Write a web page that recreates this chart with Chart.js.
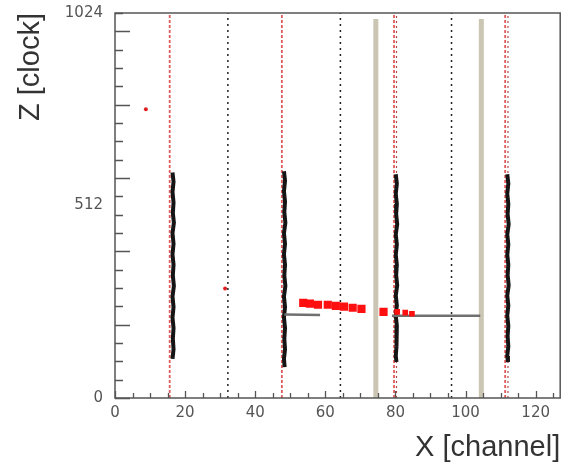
<!DOCTYPE html>
<html>
<head>
<meta charset="utf-8">
<script src="https://cdn.jsdelivr.net/npm/chart.js@4"></script>
<style>
  html, body { margin: 0; padding: 0; background: #fff; }
</style>
</head>
<body>
<canvas id="chart" width="566" height="465"></canvas>
<script>
// axes
const xRange = [0, 127];
const zRange = [0, 1024];
const xTickLabels = [0, 20, 40, 60, 80, 100, 120];
const zTickLabels = [0, 512, 1024];
const xMinorStep = 5;
const zMinorStep = 1024 / 21; // spacing of the small tick marks in the reference

// wire / boundary lines (x in channel)
const blackWires = [32.2, 64.3, 96];
const redWires = [15.6, 47.6, 79.6, 111.3];
const redWiresInner = [80.3, 112.1];
const grayBars = [74.4, 104.5];
const grayBarTop = 1008;

// hit strips [x, z]
const strip1 = [[16.4,600],[16.7,575],[16.4,548],[16.7,520],[16.5,492],[16.8,466],[16.4,438],[16.7,410],[16.4,382],[16.7,355],[16.5,326],[16.8,298],[16.4,270],[16.7,242],[16.4,214],[16.7,186],[16.5,158],[16.7,130],[16.4,104]];
const strip2 = [[48.2,603],[48.5,578],[48.2,550],[48.5,522],[48.3,494],[48.6,466],[48.2,438],[48.5,410],[48.2,382],[48.5,354],[48.3,326],[48.6,298],[48.2,270],[48.5,242],[48.2,214],[48.5,186],[48.3,158],[48.5,130],[48.2,104],[48.4,82]];
const strip3 = [[80.1,595],[80.4,570],[80.1,543],[80.4,516],[80.2,489],[80.5,462],[80.1,435],[80.4,408],[80.1,381],[80.4,354],[80.2,327],[80.5,300],[80.1,273],[80.4,246],[80.1,219],[80.4,192],[80.2,165],[80.4,138],[80.1,112],[80.3,96]];
const strip4 = [[111.9,595],[112.2,570],[111.9,543],[112.2,516],[112.0,489],[112.3,462],[111.9,435],[112.2,408],[111.9,381],[112.2,354],[112.0,327],[112.3,300],[111.9,273],[112.2,246],[111.9,219],[112.2,192],[112.0,165],[112.2,138],[111.9,112],[112.1,96]];

// reconstructed track
const trackBig = [[53.7,253],[55.6,251],[57.9,248],[60.7,248],[63.0,245],[65.3,243],[67.8,240],[70.3,237],[76.6,229]];
const trackSmall = [[80.5,229],[82.8,227],[84.7,224]];
const fitSeg1 = [[48.3,222],[58.5,221]];
const fitSeg2 = [[79.0,219],[104.2,219]];
const strayHits = [[8.8,768],[31.4,291]];

const pts = arr => arr.map(p => ({ x: p[0], y: p[1] }));

function vline(x, top, color, width, dash) {
  return {
    data: [{ x: x, y: zRange[0] }, { x: x, y: top }],
    showLine: true, pointRadius: 0,
    borderColor: color, borderWidth: width, borderDash: dash
  };
}

function polyline(arr, color, width) {
  return {
    data: pts(arr), showLine: true, pointRadius: 0,
    borderColor: color, borderWidth: width
  };
}

// first dataset is drawn on top
const datasets = [
  { data: pts(trackBig), pointStyle: 'rect', pointRadius: 5.8, backgroundColor: '#ff0f0f', borderWidth: 0 },
  { data: pts(trackSmall), pointStyle: 'rect', pointRadius: 4, backgroundColor: '#ff0f0f', borderWidth: 0 },
  { data: pts(strayHits), pointRadius: 2, backgroundColor: '#e02020', borderWidth: 0 },
  polyline(fitSeg1, '#707070', 2.5),
  polyline(fitSeg2, '#707070', 2.5),
  polyline(strip1, '#151515', 4),
  polyline(strip2, '#151515', 4),
  polyline(strip3, '#151515', 4),
  polyline(strip4, '#151515', 4)
];
redWires.forEach(x => datasets.push(vline(x, zRange[1], '#e05a5a', 1.8, [3, 2])));
redWiresInner.forEach(x => datasets.push(vline(x, zRange[1], '#b04848', 1.2, [2, 3])));
blackWires.forEach(x => datasets.push(vline(x, zRange[1], '#222', 1.5, [2, 4])));
grayBars.forEach(x => datasets.push(vline(x, grayBarTop, '#cbc6b4', 5, [])));

// frame and inward tick marks
const frameTicks = {
  id: 'frameTicks',
  afterDatasetsDraw(chart) {
    const { ctx, chartArea: a, scales: { x, y } } = chart;
    ctx.save();
    ctx.strokeStyle = '#555';
    ctx.lineWidth = 1.5;
    ctx.strokeRect(a.left, a.top, a.right - a.left, a.bottom - a.top);
    ctx.lineWidth = 1.3;
    ctx.beginPath();
    for (let i = 0; i * zMinorStep <= zRange[1] + 0.01; i++) {
      const py = Math.round(y.getPixelForValue(i * zMinorStep)) + 0.5;
      const len = i % 4 === 0 ? 15 : 8;
      ctx.moveTo(a.left, py);
      ctx.lineTo(a.left + len, py);
    }
    for (let v = xRange[0]; v <= xRange[1]; v += xMinorStep) {
      const px = Math.round(x.getPixelForValue(v)) + 0.5;
      const len = v % 20 === 0 ? 7 : 5;
      ctx.moveTo(px, a.bottom);
      ctx.lineTo(px, a.bottom - len);
    }
    ctx.stroke();
    ctx.restore();
  }
};

new Chart(document.getElementById('chart'), {
  type: 'scatter',
  data: { datasets: datasets },
  options: {
    responsive: false,
    animation: false,
    layout: { padding: { top: 13, right: 0, left: 0, bottom: 0 } },
    elements: { line: { tension: 0 } },
    plugins: { legend: { display: false }, tooltip: { enabled: false } },
    scales: {
      x: {
        type: 'linear', min: xRange[0], max: xRange[1],
        grid: { display: false, drawTicks: false },
        border: { display: false },
        afterBuildTicks: s => { s.ticks = xTickLabels.map(v => ({ value: v })); },
        afterFit: s => { s.height = 67; s.paddingLeft = 0; s.paddingRight = 0; },
        ticks: { autoSkip: false, maxRotation: 0, padding: 6, color: '#555',
                 callback: v => String(v),
                 font: { family: 'DejaVu Sans', size: 15 } },
        title: { display: true, text: 'X [channel]', align: 'end', color: '#333',
                 padding: { top: 0, bottom: 0 },
                 font: { family: 'Liberation Sans', size: 29, lineHeight: 1.2 } }
      },
      y: {
        type: 'linear', min: zRange[0], max: zRange[1],
        grid: { display: false, drawTicks: false },
        border: { display: false },
        afterBuildTicks: s => { s.ticks = zTickLabels.map(v => ({ value: v })); },
        afterFit: s => { s.width = 115; s.paddingTop = 0; s.paddingBottom = 0; },
        ticks: { autoSkip: false, padding: 12, color: '#555',
                 callback: v => String(v),
                 font: { family: 'DejaVu Sans', size: 15 } },
        title: { display: true, text: 'Z [clock]', align: 'end', color: '#333',
                 padding: { top: 14, bottom: 0 },
                 font: { family: 'Liberation Sans', size: 29, lineHeight: 1.2 } }
      }
    }
  },
  plugins: [frameTicks]
});
</script>
</body>
</html>
